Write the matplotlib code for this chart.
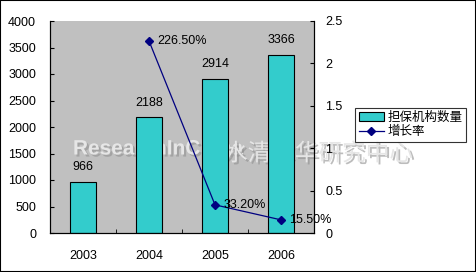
import matplotlib
matplotlib.use("Agg")
import matplotlib.pyplot as plt
import matplotlib.patheffects as pe
from matplotlib.patches import Rectangle

plt.rcParams['font.family'] = ['Liberation Sans', 'Noto Sans CJK SC', 'DejaVu Sans']
plt.rcParams['font.size'] = 9

years = ["2003", "2004", "2005", "2006"]
counts = [966, 2188, 2914, 3366]
growth = [None, 2.265, 0.332, 0.155]
growth_labels = ["", "226.50%", "33.20%", "15.50%"]

W, H = 476, 272
fig = plt.figure(figsize=(W / 100, H / 100), dpi=100)
ax = fig.add_axes([50 / W, 1 - 233 / H, 264 / W, 212 / H])
ax2 = ax.twinx()

ax.set_facecolor('#C0C0C0')
x = list(range(len(years)))
ax.bar(x, counts, width=0.4, color='#33CCCC', edgecolor='black', linewidth=0.8,
       label='担保机构数量', zorder=2)
for xi, v in zip(x, counts):
    ax.annotate(str(v), (xi, v), xytext=(0, 6), textcoords='offset points',
                ha='center', va='bottom', zorder=3)

ax.set_xlim(-0.5, 3.5)
ax.set_ylim(0, 4000)
ax.set_yticks(range(0, 4001, 500))
ax.set_xticks(x)
ax.set_xticklabels(years)
ax.set_xticks([0.5, 1.5, 2.5], minor=True)
ax.tick_params(axis='x', which='major', length=0, pad=12)
ax.tick_params(axis='x', which='minor', direction='in', length=3)
ax.tick_params(axis='y', direction='in', length=3, pad=10)
ax.spines['top'].set_visible(False)

gx = [xi for xi, g in zip(x, growth) if g is not None]
gy = [g for g in growth if g is not None]
ax2.plot(gx, gy, color='#000080', marker='D', markersize=4, linewidth=0.9, label='增长率')
for xi, g, lab in zip(x, growth, growth_labels):
    if g is not None:
        ax2.annotate(lab, (xi, g), xytext=(6, 0), textcoords='offset points',
                     ha='left', va='center')
ax2.set_ylim(0, 2.5)
ax2.set_yticks([0, 0.5, 1, 1.5, 2, 2.5])
ax2.set_yticklabels(["0", "0.5", "1", "1.5", "2", "2.5"])
ax2.tick_params(axis='y', direction='in', length=3, pad=8)
ax2.spines['top'].set_visible(False)

# watermark, behind the bars
shadow = [pe.withSimplePatchShadow(offset=(1.5, -1.5), shadow_rgbFace='#909090', alpha=0.6)]
ax.text(73 / W, 1 - 149 / H, "ResearchInChina", transform=fig.transFigure,
        ha='left', va='center', fontsize=15, fontweight='bold', color='#E6E6E6',
        family=['Liberation Sans Narrow', 'Liberation Sans'], zorder=1.5, clip_on=False,
        path_effects=shadow)
ax.text(413 / W, 1 - 154 / H, "水清木华研究中心", transform=fig.transFigure,
        ha='right', va='center', fontsize=17, color='#E6E6E6',
        family=['Noto Sans CJK SC'], zorder=1.5, clip_on=False,
        path_effects=shadow)

h1, l1 = ax.get_legend_handles_labels()
h2, l2 = ax2.get_legend_handles_labels()
leg = fig.legend(h1 + h2, l1 + l2, loc='upper left', bbox_to_anchor=(355 / W, 1 - 108 / H),
                 frameon=True, fancybox=False, edgecolor='black', fontsize=9,
                 handlelength=2.0, handletextpad=0.3, borderpad=0.3,
                 labelspacing=0.15, borderaxespad=0)
leg.get_frame().set_linewidth(0.8)
leg.set_zorder(20)

fig.patches.append(Rectangle((0, 0), 1, 1, transform=fig.transFigure, fill=False,
                             edgecolor='black', linewidth=1.5))
fig.savefig("out.png", dpi=100)
